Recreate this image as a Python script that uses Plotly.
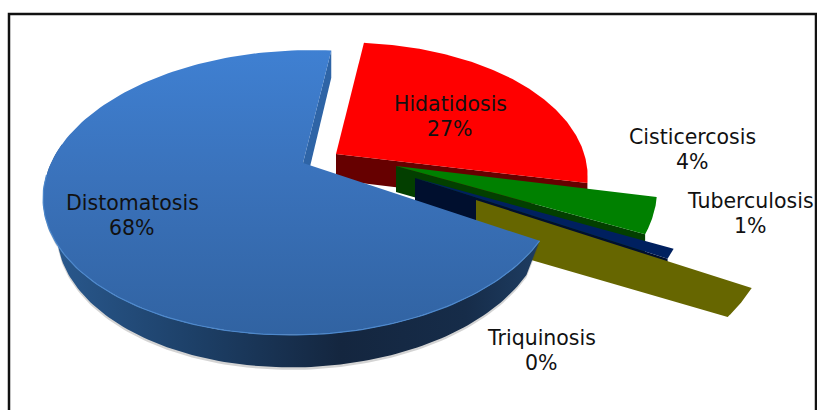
import numpy as np
import plotly.graph_objects as go

# Data
categories = ["Distomatosis", "Hidatidosis", "Cisticercosis", "Tuberculosis", "Triquinosis"]
label_percent = [68, 27, 4, 1, 0]
# angular size of each drawn slice, as a share of the full circle
slice_share = [68.0, 26.8, 4.0, 1.0, 2.7]

# Styling
face = {"Hidatidosis": "#ff0000", "Cisticercosis": "#008000", "Tuberculosis": "#00205f", "Triquinosis": "#666600"}
wall = {"Hidatidosis": "#660000", "Cisticercosis": "#033f00", "Tuberculosis": "#000f2e"}
radius = {"Distomatosis": 1.0, "Hidatidosis": 0.985, "Cisticercosis": 1.02, "Tuberculosis": 1.055, "Triquinosis": 1.14}
shift = {"Distomatosis": (0, 0), "Hidatidosis": (33, -9), "Cisticercosis": (93, 3), "Tuberculosis": (112, 15), "Triquinosis": (173, 37)}
label_pos = {"Distomatosis": (132, 215.5), "Hidatidosis": (450, 116.5), "Cisticercosis": (692, 149),
             "Tuberculosis": (750, 213), "Triquinosis": (541, 350.5)}
LINE_GAP = 25
START = 84.5
CX, CY, A, B, K, P, DEPTH = 303, 163, 252, 10, 136.4, 0.207, 26
MAIN_DEPTH, MAIN_LOWER_R = 34.6, 0.95
OLIVE_DROP = 44
FONT = "DejaVu Sans"


def proj(angle, r, sh, down=0.0):
    t = np.radians(np.asarray(angle, dtype=float))
    u, v = r * np.cos(t), r * np.sin(t)
    s = 1 / (1 + P * v)
    return CX + sh[0] + (A * u + B * v) * s, CY + sh[1] - K * v * s + down * s


def poly(fig, x, y, color=None, grad=None):
    tr = dict(x=x, y=y, mode="lines", fill="toself", line=dict(width=0), hoverinfo="skip", showlegend=False)
    if grad:
        tr["fillgradient"] = grad
    else:
        tr["fillcolor"] = color
    fig.add_trace(go.Scatter(**tr))


def wedge(a0, a1, r, sh, drop=0):
    x, y = proj(np.linspace(a0, a1, 160), r, sh)
    tx, ty = CX + sh[0], CY + sh[1]
    return np.r_[tx, x, tx, tx], np.r_[ty, y, ty + drop, ty]


def rim_wall(a0, a1, r, sh, r_low, depth):
    ang = np.linspace(a0, a1, 140)
    x0, y0 = proj(ang, r, sh)
    x1, y1 = proj(ang, r_low, sh, depth)
    return np.r_[x0, x1[::-1]], np.r_[y0, y1[::-1]]


def edge_wall(a, r, sh, depth=DEPTH):
    x0, y0 = proj(a, r, sh)
    x1, y1 = proj(a, r, sh, depth)
    tx, ty = CX + sh[0], CY + sh[1]
    return [tx, float(x0), float(x1), tx, tx], [ty, float(y0), float(y1), ty + depth, ty]


fig = go.Figure()
share = dict(zip(categories, slice_share))

# Exploded slices, back to front, clockwise from the start angle
a = START
for name in categories[1:]:
    a1 = a - share[name] * 3.6
    r, sh = radius[name], shift[name]
    if name in wall:
        poly(fig, *edge_wall(a1, r, sh), color=wall[name])
    drop = OLIVE_DROP if name == "Triquinosis" else 0
    poly(fig, *wedge(a, a1, r, sh, drop), color=face[name])
    a = a1

# Largest slice
name = "Distomatosis"
r, sh = radius[name], shift[name]
a_end = START + share[name] * 3.6
sx, sy = rim_wall(172, a_end, r, sh, MAIN_LOWER_R, MAIN_DEPTH)
poly(fig, sx, sy + 2.5, color="rgba(60,60,60,0.22)")
poly(fig, *edge_wall(START, r, sh, 33), color="#2e64a6")
poly(fig, sx, sy, grad=dict(type="horizontal", colorscale=[[0, "#2a5a90"], [0.3, "#1d4068"], [0.6, "#14263f"],
                                                          [0.85, "#162c49"], [1, "#1e3d62"]]))
poly(fig, *wedge(START, a_end, r, sh),
     grad=dict(type="vertical", colorscale=[[0, "#3163a2"], [0.55, "#3a72bb"], [1, "#3f80d2"]]))
rx, ry = proj(np.linspace(185, a_end, 120), r, sh)
fig.add_trace(go.Scatter(x=rx, y=ry, mode="lines", line=dict(color="#4d88cc", width=1.2),
                         hoverinfo="skip", showlegend=False))

annotations = []
for n, p in zip(categories, label_percent):
    lx, ly = label_pos[n]
    for txt, dy in ((n, -LINE_GAP / 2), (f"{p}%", LINE_GAP / 2)):
        annotations.append(dict(x=lx, y=ly + dy, text=txt, showarrow=False, xanchor="center", yanchor="middle",
                                font=dict(family=FONT, size=20.5, color="#111111")))

fig.update_layout(
    width=817, height=410, margin=dict(l=0, r=0, t=0, b=0), paper_bgcolor="white", plot_bgcolor="white",
    showlegend=False, annotations=annotations,
    xaxis=dict(range=[0, 817], visible=False, fixedrange=True),
    yaxis=dict(range=[410, 0], visible=False, fixedrange=True),
    shapes=[dict(type="rect", xref="x", yref="y", x0=9, y0=14, x1=816, y1=430,
                 line=dict(color="#111111", width=2.5), layer="above")],
)
fig.write_html("out.html", config=dict(displayModeBar=False), post_script="document.body.style.margin='0';")
